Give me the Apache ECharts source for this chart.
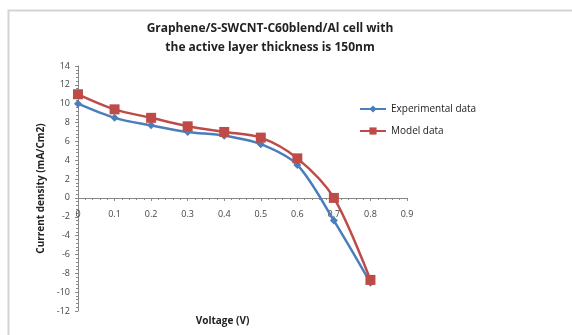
<!DOCTYPE html>
<html><head><meta charset="utf-8">
<script src="https://cdn.jsdelivr.net/npm/echarts@6/dist/echarts.min.js"></script>
<style>html,body{margin:0;padding:0;background:#fff}#c{width:572px;height:335px}</style>
</head><body><div id="c"></div>
<script>
var voltage = [0, 0.1, 0.2, 0.3, 0.4, 0.5, 0.6, 0.7, 0.8];
var experimental = [10.0, 8.5, 7.7, 7.0, 6.6, 5.7, 3.5, -2.4, -9.0];
var model = [11.0, 9.4, 8.5, 7.6, 7.0, 6.4, 4.2, 0.0, -8.7];
var seriesNames = ['Experimental data', 'Model data'];
var titleText = 'Graphene/S-SWCNT-C60blend/Al cell with\nthe active layer thickness is 150nm';
var xName = 'Voltage (V)';
var yName = 'Current density (mA/Cm2)';
var yMin = -12, yMax = 14;

function pairs(xs, ys){ return xs.map(function(x,i){ return [x, ys[i]]; }); }

var W = 572, H = 335;
var grid = {left: 78, right: 165, top: 66, bottom: 24};
var gridH = H - grid.top - grid.bottom;
// shift the x axis (line, ticks, labels, name) up to the y = 0 crossing
var xOffset = -gridH * (0 - yMin) / (yMax - yMin);

var chart = echarts.init(document.getElementById('c'));
var font = '"Open Sans", "DejaVu Sans", sans-serif';
chart.setOption({
  animation: false,
  backgroundColor: '#fff',
  graphic: [{
    type: 'rect', left: 6, top: 8,
    shape: {width: 600, height: 400},
    style: {fill: 'none', stroke: '#d4d4d4', lineWidth: 2}
  }],
  title: {
    text: titleText, left: 265, top: 14, textAlign: 'center',
    textStyle: {fontFamily: font, fontSize: 12, fontWeight: 'bold', color: '#222', lineHeight: 19}
  },
  legend: {
    orient: 'vertical', left: 354, top: 99, itemWidth: 26, itemHeight: 9, itemGap: 12,
    textStyle: {fontFamily: font, fontSize: 10, color: '#222'},
    data: seriesNames
  },
  grid: {left: grid.left, right: grid.right, top: grid.top, bottom: grid.bottom, containLabel: false, outerBoundsMode: 'none'},
  xAxis: {
    type: 'value', min: 0, max: 0.9, interval: 0.1,
    position: 'bottom', offset: xOffset,
    name: xName, nameLocation: 'middle', nameGap: 118,
    nameTextStyle: {fontFamily: font, fontSize: 10, fontWeight: 'bold', color: '#222', padding: [0, 40, 0, 0]},
    axisLine: {onZero: false, lineStyle: {color: '#888', width: 1}},
    axisTick: {show: true, length: 3, lineStyle: {color: '#888'}},
    minorTick: {show: true, splitNumber: 5, length: 2, lineStyle: {color: '#888'}},
    splitLine: {show: false},
    axisLabel: {fontFamily: font, fontSize: 9, color: '#444', margin: 12,
      formatter: function(v){ return v === 0 ? '0' : (+v.toFixed(1)).toString(); }}
  },
  yAxis: {
    type: 'value', min: yMin, max: yMax, interval: 2,
    name: yName, nameLocation: 'middle', nameGap: 32,
    nameTextStyle: {fontFamily: font, fontSize: 10, fontWeight: 'bold', color: '#222'},
    axisLine: {show: true, onZero: false, lineStyle: {color: '#888', width: 1}},
    axisTick: {show: true, length: 3, lineStyle: {color: '#888'}},
    minorTick: {show: true, splitNumber: 5, length: 2, lineStyle: {color: '#888'}},
    splitLine: {show: false},
    axisLabel: {fontFamily: font, fontSize: 9, color: '#444', margin: 8}
  },
  series: [{
    name: seriesNames[0], type: 'line', smooth: 0.3,
    data: pairs(voltage, experimental),
    symbol: 'diamond', symbolSize: 8,
    lineStyle: {color: '#4A7EBB', width: 2.5},
    itemStyle: {color: '#4A7EBB'}
  }, {
    name: seriesNames[1], type: 'line', smooth: 0.3,
    data: pairs(voltage, model),
    symbol: 'rect', symbolSize: 10,
    lineStyle: {color: '#BE4B48', width: 2.5},
    itemStyle: {color: '#BE4B48'}
  }]
});
</script></body></html>
